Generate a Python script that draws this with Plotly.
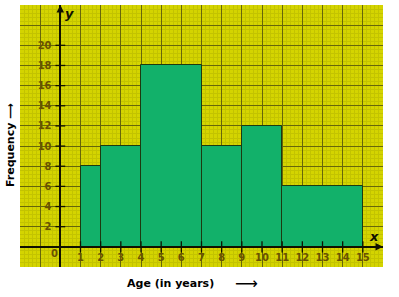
import plotly.graph_objects as go

# Data
bin_edges = [1, 2, 4, 7, 9, 11, 15]
frequencies = [8, 10, 18, 10, 12, 6]
x_ticks = list(range(1, 16))
y_ticks = list(range(2, 21, 2))
x_label = "Age (in years)"
y_label = "Frequency"

lefts = bin_edges[:-1]
rights = bin_edges[1:]
mids = [(a + b) / 2 for a, b in zip(lefts, rights)]
widths = [b - a for a, b in zip(lefts, rights)]

XR = [-2, 16]
YR = [-2, 24]

fig = go.Figure()
fig.add_trace(go.Bar(
    x=mids, y=frequencies, width=widths,
    marker=dict(color="#12b16a", line=dict(color="#1d3a10", width=1)),
    xaxis="x", yaxis="y", hoverinfo="skip",
))
# crossing tick marks on the axes
fig.add_trace(go.Scatter(
    x=x_ticks, y=[0] * len(x_ticks), mode="markers",
    marker=dict(symbol="line-ns", size=8, line=dict(color="#111100", width=1.3)),
    xaxis="x2", yaxis="y2", hoverinfo="skip",
))
fig.add_trace(go.Scatter(
    x=[0] * len(y_ticks), y=y_ticks, mode="markers",
    marker=dict(symbol="line-ew", size=7, line=dict(color="#111100", width=1.3)),
    xaxis="x2", yaxis="y2", hoverinfo="skip",
))

tick_font = dict(family="DejaVu Sans", size=10, color="#6a5200")

fig.update_layout(
    width=399, height=297,
    margin=dict(l=20, r=16, t=5, b=30),
    paper_bgcolor="white", plot_bgcolor="#d4d400",
    showlegend=False,
    bargap=0,
    xaxis=dict(range=XR, tick0=0, dtick=1, showgrid=True, gridcolor="#66660a", gridwidth=1,
               showticklabels=False, ticks="", zeroline=False, fixedrange=True,
               minor=dict(dtick=0.2, showgrid=True, gridcolor="#c3c300", gridwidth=1)),
    yaxis=dict(range=YR, tick0=0, dtick=2, showgrid=True, gridcolor="#66660a", gridwidth=1,
               showticklabels=False, ticks="", zeroline=False, fixedrange=True,
               minor=dict(dtick=0.4, showgrid=True, gridcolor="#c3c300", gridwidth=1)),
    xaxis2=dict(range=XR, overlaying="x", anchor="free", position=(0 - YR[0]) / (YR[1] - YR[0]),
                tickvals=x_ticks, ticktext=["<b>" + str(v) + "</b>" for v in x_ticks],
                showgrid=False, zeroline=False, showline=True, linecolor="#111100", linewidth=1.5,
                ticks="outside", ticklen=1, tickcolor="rgba(0,0,0,0)", tickfont=tick_font),
    yaxis2=dict(range=YR, overlaying="y", anchor="free", side="left",
                position=(0 - XR[0]) / (XR[1] - XR[0]),
                tickvals=y_ticks, ticktext=["<b>" + str(v) + "</b>" for v in y_ticks],
                showgrid=False, zeroline=False, showline=True, linecolor="#111100", linewidth=1.5,
                ticks="outside", ticklen=6, tickcolor="rgba(0,0,0,0)", tickfont=tick_font),
)

# axis arrows
fig.add_annotation(x=0, y=YR[1], ax=0, ay=YR[1] - 1.5, xref="x", yref="y", axref="x", ayref="y",
                   text="", showarrow=True, arrowhead=2, arrowsize=1, arrowwidth=1.5, arrowcolor="#111100")
fig.add_annotation(x=XR[1], y=0, ax=XR[1] - 0.7, ay=0, xref="x", yref="y", axref="x", ayref="y",
                   text="", showarrow=True, arrowhead=2, arrowsize=1, arrowwidth=1.5, arrowcolor="#111100")
fig.add_annotation(x=0, y=YR[1], xref="x", yref="y", text="<b><i>y</i></b>", showarrow=False,
                   xanchor="left", yanchor="top", xshift=3, yshift=1,
                   font=dict(family="DejaVu Sans", size=13, color="#111100"))
fig.add_annotation(x=15.55, y=0, xref="x", yref="y", text="<b><i>x</i></b>", showarrow=False,
                   xanchor="center", yanchor="bottom", yshift=1,
                   font=dict(family="DejaVu Sans", size=13, color="#111100"))
fig.add_annotation(x=0, y=0, xref="x", yref="y", text="<b>0</b>", showarrow=False,
                   xanchor="right", yanchor="top", xshift=0, yshift=1, font=tick_font)

# axis titles
fig.add_annotation(x=(170 - 20) / 363, y=-0.062, xref="paper", yref="paper",
                   text="<b>" + x_label + "</b>", showarrow=False, xanchor="center", yanchor="middle",
                   font=dict(family="DejaVu Sans", size=11, color="#000000"))
fig.add_annotation(x=(246 - 20) / 363, y=-0.062, xref="paper", yref="paper",
                   text="⟶", showarrow=False, xanchor="center", yanchor="middle",
                   font=dict(family="DejaVu Sans", size=16, color="#000000"))
fig.add_annotation(x=(10 - 20) / 363, y=(267 - 145) / 262, xref="paper", yref="paper",
                   text="<b>" + y_label + " ⟶</b>", showarrow=False, textangle=-90,
                   xanchor="center", yanchor="middle",
                   font=dict(family="DejaVu Sans", size=11, color="#000000"))

fig.write_html("out.html")
